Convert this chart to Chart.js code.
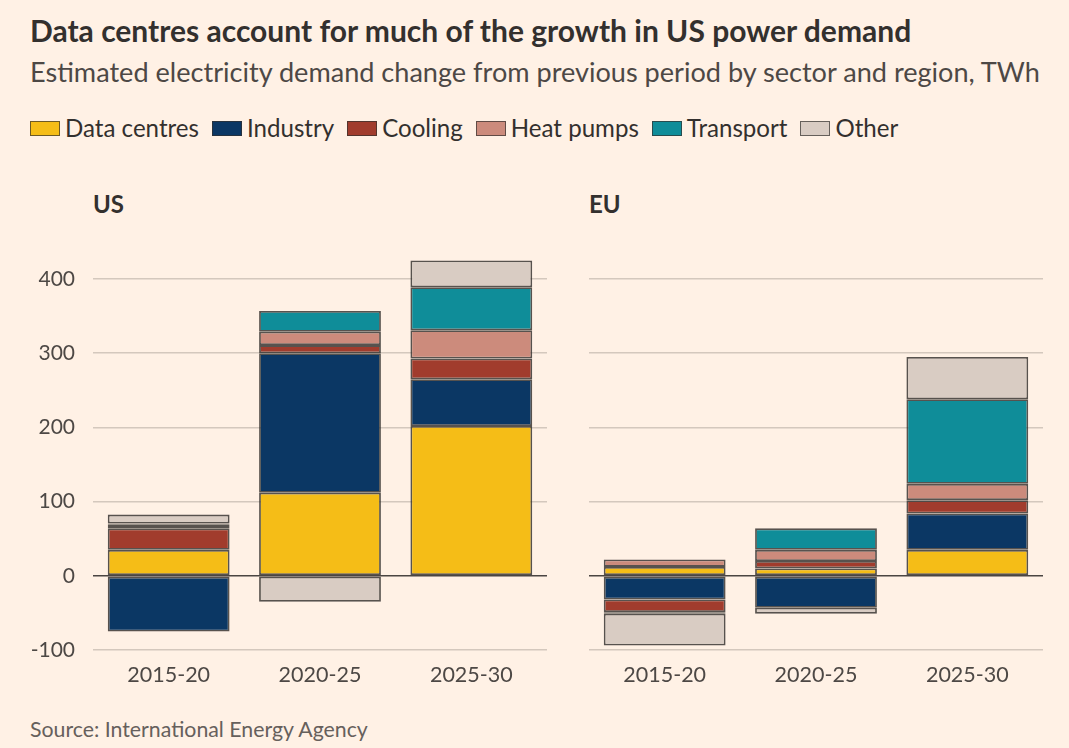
<!DOCTYPE html>
<html>
<head>
<meta charset="utf-8">
<script src="https://cdn.jsdelivr.net/npm/chart.js@4.4.1/dist/chart.umd.min.js"></script>
<style>
  html, body { margin:0; padding:0; background:#fff1e5; }
  body { width:1069px; height:748px; position:relative; overflow:hidden; font-family: Lato, "Noto Sans", sans-serif; }
  .t { position:absolute; line-height:1; white-space:nowrap; }
  #title { left:30px; top:15px; font-size:30px; font-weight:700; color:#33302e; }
  #subtitle { left:30px; top:58px; font-size:27.1px; color:#4d4845; }
  #legend { position:absolute; left:30px; top:116px; display:flex; align-items:center; font-size:24.1px; line-height:1; color:#33302e; }
  .li { display:flex; align-items:center; margin-right:13px; }
  .sw { width:28px; height:13px; border:1px solid rgba(51,48,46,0.7); margin-right:5px; }
  .panel { top:192px; font-size:24px; font-weight:700; color:#33302e; }
  #source { left:30px; top:719px; font-size:21.3px; color:#66605c; }
  canvas { position:absolute; }
</style>
</head>
<body>
<div class="t" id="title">Data centres account for much of the growth in US power demand</div>
<div class="t" id="subtitle">Estimated electricity demand change from previous period by sector and region, TWh</div>
<div id="legend"></div>
<div class="t panel" style="left:93px">US</div>
<div class="t panel" style="left:589px">EU</div>
<div class="t" id="source">Source: International Energy Agency</div>
<div id="wrapL" style="position:absolute;left:0;top:230px;width:560px;height:470px;"><canvas id="cL"></canvas></div>
<div id="wrapR" style="position:absolute;left:560px;top:230px;width:509px;height:470px;"><canvas id="cR"></canvas></div>
<script>
const categories = ['2015-20', '2020-25', '2025-30'];
const seriesNames = ['Data centres', 'Industry', 'Cooling', 'Heat pumps', 'Transport', 'Other'];
const seriesColors = ['#f5bd17', '#0b3764', '#a13c2d', '#cc8b7c', '#0f8d99', '#d9ccc3'];
const yTicks = [-100, 0, 100, 200, 300, 400];

// US (TWh change)
const usDataCentres = [35, 112, 202];
const usIndustry    = [-75, 188, 63];
const usCooling     = [29, 11, 28];
const usHeatPumps   = [5, 18, 38];
const usTransport   = [1.5, 28, 58];
const usOther       = [12, -35, 36];

// EU (TWh change)
const euDataCentres = [12, 10, 35];
const euIndustry    = [-32, -43, 49];
const euCooling     = [-17, 10, 18];
const euHeatPumps   = [10, 15, 22];
const euTransport   = [-2, 29, 114];
const euOther       = [-43, -8, 57];

const usSeries = [usDataCentres, usIndustry, usCooling, usHeatPumps, usTransport, usOther];
const euSeries = [euDataCentres, euIndustry, euCooling, euHeatPumps, euTransport, euOther];

// HTML legend
const leg = document.getElementById('legend');
seriesNames.forEach((n, i) => {
  const d = document.createElement('div'); d.className = 'li';
  const s = document.createElement('div'); s.className = 'sw'; s.style.background = seriesColors[i];
  const t = document.createElement('span'); t.textContent = n;
  d.appendChild(s); d.appendChild(t); leg.appendChild(d);
});

Chart.defaults.font.family = 'Lato, "Noto Sans", sans-serif';

function makeChart(id, series, showY, yWidth, padRight) {
  return new Chart(document.getElementById(id), {
    type: 'bar',
    data: {
      labels: categories,
      datasets: series.map((vals, i) => ({
        label: seriesNames[i],
        data: vals,
        backgroundColor: seriesColors[i],
        borderColor: 'rgba(45,42,40,0.8)',
        borderWidth: 1.8,
        borderSkipped: false,
        barPercentage: 0.805,
        categoryPercentage: 1.0
      }))
    },
    options: {
      responsive: true,
      maintainAspectRatio: false,
      animation: false,
      layout: { padding: { top: 12, right: padRight, left: 0, bottom: 0 } },
      plugins: { legend: { display: false }, tooltip: { enabled: false } },
      scales: {
        x: {
          stacked: true,
          grid: { display: false, drawTicks: false },
          border: { display: false },
          ticks: { color: '#4d4845', font: { size: 21.5 }, padding: 12 },
          afterFit: (s) => { s.height = 50; }
        },
        y: {
          stacked: true,
          min: -100,
          max: 450,
          afterBuildTicks: (s) => { s.ticks = yTicks.map(v => ({ value: v })); },
          grid: {
            drawTicks: false,
            color: (c) => c.tick && c.tick.value === 0 ? '#4a4542' : '#d4c8bd',
            lineWidth: 1.6
          },
          border: { display: false },
          ticks: { display: showY, color: '#4d4845', font: { size: 21 }, padding: 18 },
          afterFit: (s) => { s.width = yWidth; s.paddingTop = 0; s.paddingBottom = 0; }
        }
      }
    }
  });
}

makeChart('cL', usSeries, true, 93, 13);
makeChart('cR', euSeries, false, 29, 26);
</script>
</body>
</html>
